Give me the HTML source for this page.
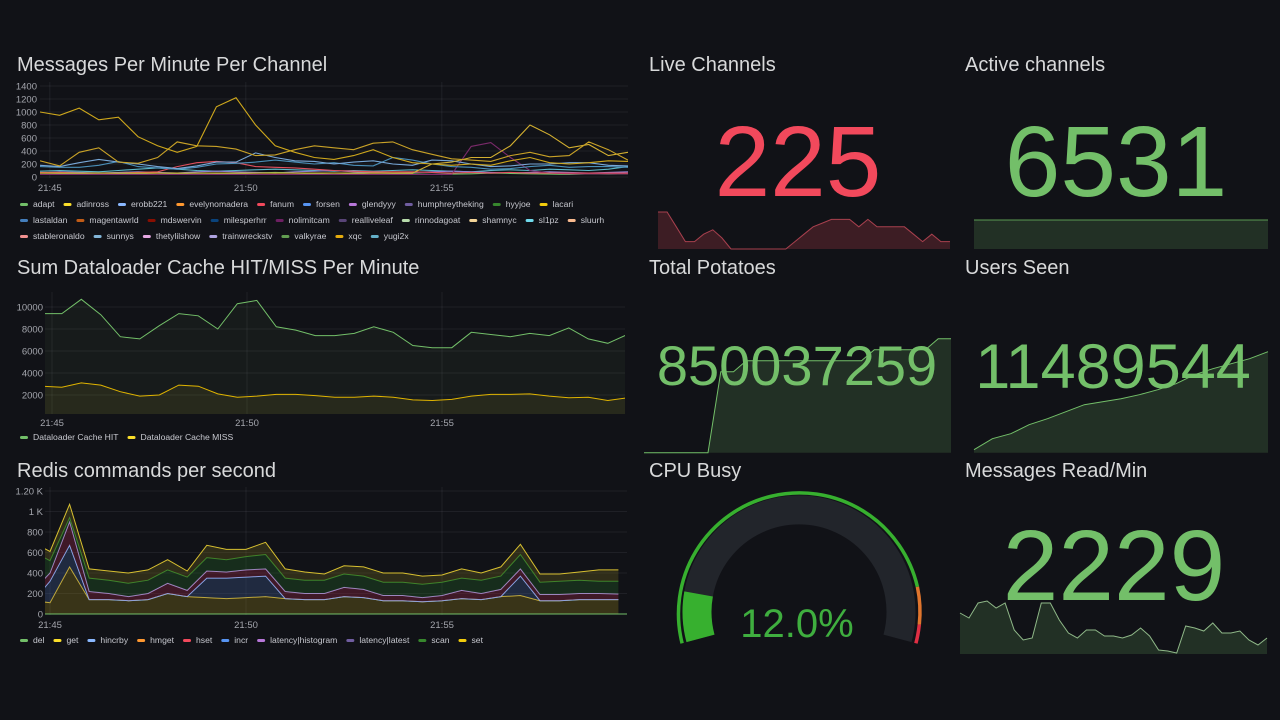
<!DOCTYPE html>
<html><head><meta charset="utf-8">
<style>
html,body{margin:0;padding:0;background:#111217;width:1280px;height:720px;overflow:hidden;}
svg{display:block;font-family:"Liberation Sans",sans-serif;}
.ttl{fill:#d8d9da;font-size:20px;}
.tick{fill:#a4a6ad;font-size:9.5px;}
.leg{fill:#c7c8cf;font-size:8.6px;}
.grid{stroke:rgba(204,204,220,0.08);stroke-width:1;}
</style></head>
<body>
<svg id="dash" width="1280" height="720" viewBox="0 0 1280 720">
<defs>
<clipPath id="c1"><rect x="40" y="80" width="588" height="98"/></clipPath>
<clipPath id="c2"><rect x="45" y="290" width="580" height="124"/></clipPath>
<clipPath id="c3"><rect x="45" y="485" width="582" height="130"/></clipPath>
</defs>
<text class="ttl" x="17" y="71">Messages Per Minute Per Channel</text>
<text class="ttl" x="17" y="274">Sum Dataloader Cache HIT/MISS Per Minute</text>
<text class="ttl" x="17" y="477">Redis commands per second</text>
<text class="ttl" x="649" y="71">Live Channels</text>
<text class="ttl" x="965" y="71">Active channels</text>
<text class="ttl" x="649" y="274">Total Potatoes</text>
<text class="ttl" x="965" y="274">Users Seen</text>
<text class="ttl" x="649" y="477">CPU Busy</text>
<text class="ttl" x="965" y="477">Messages Read/Min</text>
<g id="g1"></g>
<g id="g2"></g>
<g id="g3"></g>
<g id="spark"></g>
<g id="gauge"></g>
<text x="798" y="196" text-anchor="middle" font-size="100" fill="#f2495c">225</text>
<text x="1116" y="196" text-anchor="middle" font-size="100" fill="#73bf69">6531</text>
<text x="797" y="385" text-anchor="middle" font-size="56" fill="#73bf69">850037259</text>
<text x="1113" y="388" text-anchor="middle" font-size="63" fill="#73bf69">11489544</text>
<text x="1114" y="600" text-anchor="middle" font-size="100" fill="#73bf69">2229</text>
<text x="797" y="637" text-anchor="middle" font-size="40" fill="#3fae3f">12.0%</text>
</svg>
<script>
// ---------- Chart 1 data ----------
const times1 = [44.75,45.25,45.75,46.25,46.75,47.25,47.75,48.25,48.75,49.25,49.75,50.25,50.75,51.25,51.75,52.25,52.75,53.25,53.75,54.25,54.75,55.25,55.75,56.25,56.75,57.25,57.75,58.25,58.75,59.25,59.75];
const ticks1 = [0,200,400,600,800,1000,1200,1400];
const timeTicks = [45,50,55];
const timeLabels = ["21:45","21:50","21:55"];
const s_xqc = [1000,950,1060,880,920,620,480,380,470,1080,1220,800,480,380,300,270,330,420,300,220,200,180,200,180,250,300,220,200,220,250,240];
const s_adinross = [250,170,380,450,230,210,300,540,480,470,430,330,340,420,480,450,420,520,540,420,350,280,260,240,330,380,310,330,540,420,260];
const s_lacari = [60,60,60,60,60,60,60,60,60,60,60,60,60,60,60,60,60,60,60,60,200,230,300,300,480,800,650,450,500,330,380];
const s_erobb = [180,160,220,270,230,200,160,130,170,230,230,370,300,250,240,200,230,250,200,180,260,250,200,160,170,200,200,220,220,180,170];
const s_yugi = [160,150,150,180,240,160,140,120,150,200,210,230,260,230,200,220,180,170,300,260,200,160,150,120,130,160,180,150,160,160,150];
const s_fanum = [70,70,60,60,60,70,80,160,220,240,220,160,150,140,120,100,90,80,80,80,70,60,70,60,70,60,60,60,60,60,60];
const s_nolimit = [40,40,40,40,40,40,40,40,40,40,40,40,40,40,40,40,40,40,40,40,40,40,470,530,300,100,60,50,50,50,50];
const s_adapt = [40,45,50,40,45,50,40,50,60,55,50,60,70,60,50,40,50,60,55,50,40,45,50,60,55,50,45,40,50,45,50];
const s_glendy = [60,80,70,60,70,80,70,60,80,90,80,70,60,80,90,100,80,70,60,70,80,90,80,70,60,70,80,70,60,70,80];
const s_sunnys = [90,100,90,80,100,120,140,120,100,90,100,110,120,110,100,90,100,90,100,110,100,90,80,100,110,100,120,110,100,120,160];
const legend1 = [["adapt","adinross","erobb221","evelynomadera","fanum","forsen","glendyyy","humphreytheking","hyyjoe","lacari"],["lastaldan","magentawrld","mdswervin","milesperhrr","nolimitcam","realliveleaf","rinnodagoat","shamnyc","sl1pz","sluurh"],["stableronaldo","sunnys","thetylilshow","trainwreckstv","valkyrae","xqc","yugi2x"]];
const legendColors1 = [["#73bf69","#fade2a","#8ab8ff","#ff9830","#f2495c","#5794f2","#b877d9","#705da0","#37872d","#f2cc0c"],["#447ebc","#c15c17","#890f02","#0a437c","#6d1f62","#584477","#b7dbab","#f4d598","#70dbed","#f9ba8f"],["#f29191","#82b5d8","#e5a8e2","#aea2e0","#629e51","#e5ac0e","#64b0c8"]];
// ---------- Chart 2 data ----------
const times2 = [44.75,45.25,45.75,46.25,46.75,47.25,47.75,48.25,48.75,49.25,49.75,50.25,50.75,51.25,51.75,52.25,52.75,53.25,53.75,54.25,54.75,55.25,55.75,56.25,56.75,57.25,57.75,58.25,58.75,59.25,59.75];
const ticks2 = [2000,4000,6000,8000,10000];
const cacheHit = [9400,9400,10700,9300,7300,7100,8300,9400,9200,8000,10300,10600,8200,7900,7400,7400,7600,8200,7700,6500,6300,6300,7700,7500,7300,7600,7400,8100,7100,6700,7500];
const cacheMiss = [2800,2700,3100,2900,2300,1900,2000,2900,2800,2100,1800,1900,2050,2050,1950,1800,1800,1900,1800,1550,1500,1600,1900,2050,2050,2100,1900,1750,1800,1500,1750];
// ---------- Chart 3 data ----------
const times3 = [44.8,45.0,45.5,46.0,46.5,47.0,47.5,48.0,48.5,49.0,49.5,50.0,50.5,51.0,51.5,52.0,52.5,53.0,53.5,54.0,54.5,55.0,55.5,56.0,56.5,57.0,57.5,58.0,58.5,59.0,59.5];
const ticks3 = [0,200,400,600,800,1000,1200];
const tickLabels3 = ["0","200","400","600","800","1 K","1.20 K"];
const r_get = [120,110,460,140,140,130,140,200,170,160,150,160,170,150,140,140,170,160,130,130,120,130,150,140,170,180,130,130,140,140,140];
const r_hincrby = [110,210,210,0,0,0,0,0,0,190,200,200,200,0,0,0,0,0,0,0,0,0,0,0,0,190,0,0,0,0,0];
const r_latency = [90,80,230,80,60,40,60,100,60,70,60,70,70,70,60,60,90,80,50,50,40,50,80,60,70,70,60,60,60,60,55];
const r_scan = [240,120,40,130,130,130,130,130,130,130,120,130,140,130,130,130,130,130,130,130,130,130,120,130,130,140,120,130,130,120,125];
const r_set = [90,90,130,90,90,100,100,100,60,120,100,70,120,90,80,60,80,90,90,90,80,70,90,70,90,100,80,70,80,110,110];
const legend3 = ["del","get","hincrby","hmget","hset","incr","latency|histogram","latency|latest","scan","set"];
const legendColors3 = ["#73bf69","#fade2a","#8ab8ff","#ff9830","#f2495c","#5794f2","#b877d9","#705da0","#37872d","#f2cc0c"];
// ---------- Stat sparklines ----------
const liveChannels = [5,5,3,1,1,2,2.6,1.5,0,0,0,0,0,0,0,1,2,3,3.5,4,4,4,3,4,3,3,3,3,2,1,2,1,1];
const activeChannels = [1,1,1,1,1,1,1,1,1,1];
const totalPotatoes = [0,0,0,0,0,0,81,81,92,92,92,92,92,92,92,92,92,92,103,103,103,103,103,114,114];
const usersSeen = [3,14,19,28,34,41,48,51,54,58,63,69,78,84,89,94,101];
const messagesRead = [41,36,51,53,46,51,24,14,16,51,51,34,21,16,24,24,18,18,16,19,26,18,4,3,1,28,26,23,31,21,21,23,14,9,16];
const cpuBusy = [12.0];

const NS = "http://www.w3.org/2000/svg";
function mk(parent, tag, attrs){const e=document.createElementNS(NS,tag);for(const k in attrs)e.setAttribute(k,attrs[k]);parent.appendChild(e);return e;}
function pathD(xs, ys){return xs.map((x,i)=>(i?"L":"M")+x.toFixed(1)+" "+ys[i].toFixed(1)).join(" ");}

function axes(g, xS, yS, yt, ylabels, x0, x1, labX, yBot, xtY, yTop){
  yt.forEach((v,i)=>{
    const l=mk(g,"line",{x1:x0,x2:x1,y1:yS(v),y2:yS(v),class:"grid"});
    
    
    const t=mk(g,"text",{x:labX,y:yS(v)+3.5,"text-anchor":"end",class:"tick"});
    t.textContent=ylabels[i];
    
    
  });
  timeTicks.forEach((tt,i)=>{
    const l=mk(g,"line",{x1:xS(tt),x2:xS(tt),y1:yTop,y2:yBot,class:"grid"});
    
    
    const t=mk(g,"text",{x:xS(tt),y:xtY,"text-anchor":"middle",class:"tick"});
    t.textContent=timeLabels[i];
    
    
  });
}

function legendRow(g, names, colors, x, y){
  let cx=x;
  names.forEach((n,i)=>{
    const m=mk(g,"rect",{x:cx,y:y-3,width:8,height:3,rx:1.5,fill:colors[i]});
    
    
    const t=mk(g,"text",{x:cx+13,y:y+1,class:"leg"});
    t.textContent=n;
    
    
    cx+=13+t.getComputedTextLength()+9;
  });
}

// Chart 1
(function(){
  const g=document.getElementById('g1');
  const xS=t=>40+(t-44.75)*39.2, yS=v=>177-v*91/1400;
  axes(g,xS,yS,ticks1,ticks1.map(String),40,628,37,178,191,82);
  const cg=mk(g,"g",{"clip-path":"url(#c1)"});
  const series=[[s_sunnys,"#5cb8c8"],[s_glendy,"#8f7fd0"],[s_adapt,"#73bf69"],[s_nolimit,"#7a2a6a"],[s_fanum,"#e0505e"],[s_yugi,"#4a8fb8"],[s_erobb,"#78a8d8"],[s_lacari,"#d4b030"],[s_adinross,"#c9a227"],[s_xqc,"#cfa81c"]];
  series.forEach(([vals,col])=>{
    const p=mk(cg,"path",{d:pathD(times1.map(xS),vals.map(yS)),fill:"none",stroke:col,"stroke-width":1.1});
    
    
  });
  legend1.forEach((row,i)=>legendRow(g,row,legendColors1[i],20,206+i*16));
})();

// Chart 2
(function(){
  const g=document.getElementById('g2');
  const xS=t=>52+(t-45)*39, yS=v=>417-v*0.011;
  axes(g,xS,yS,ticks2,ticks2.map(String),45,625,43,414,426,292);
  const cg=mk(g,"g",{"clip-path":"url(#c2)"});
  [[cacheHit,"#73bf69","rgba(115,191,105,0.06)","cache-hit-line"],[cacheMiss,"#e0b400","rgba(250,222,42,0.07)","cache-miss-line"]].forEach(([vals,col,fill,nm])=>{
    const xs=times2.map(xS), ys=vals.map(yS);
    const a=mk(cg,"path",{d:pathD(xs,ys)+` L${xs[xs.length-1]} 414 L${xs[0]} 414 Z`,fill:fill});
    
    
    const p=mk(cg,"path",{d:pathD(xs,ys),fill:"none",stroke:col,"stroke-width":1});
    
    
  });
  legendRow(g,["Dataloader Cache HIT","Dataloader Cache MISS"],["#73bf69","#fade2a"],20,439);
})();

// Chart 3
(function(){
  const g=document.getElementById('g3');
  const xS=t=>50+(t-45)*39.2, yS=v=>614-v*123/1200;
  axes(g,xS,yS,ticks3,tickLabels3,45,627,43,615,628,487);
  const cg=mk(g,"g",{"clip-path":"url(#c3)"});
  const layers=[[r_get,"#d8b830","rgba(160,140,30,0.28)"],[r_hincrby,"#8ab8ff","rgba(60,90,140,0.35)"],[r_latency,"#b08ad8","rgba(150,40,70,0.35)"],[r_scan,"#37872d","rgba(40,110,40,0.3)"],[r_set,"#d8c030","rgba(120,110,30,0.3)"]];
  let base=times3.map(()=>0);
  const xs=times3.map(xS);
  layers.forEach(([vals,col,fill])=>{
    const top=base.map((b,i)=>b+vals[i]);
    const ty=top.map(yS), by=base.map(yS);
    let d=pathD(xs,ty);
    for(let i=xs.length-1;i>=0;i--)d+=` L${xs[i].toFixed(1)} ${by[i].toFixed(1)}`;
    const a=mk(cg,"path",{d:d+" Z",fill:fill});
    
    
    const p=mk(cg,"path",{d:pathD(xs,ty),fill:"none",stroke:col,"stroke-width":1});
    
    
    base=top;
  });
  const z=mk(cg,"line",{x1:45,x2:627,y1:yS(0),y2:yS(0),stroke:"#73bf69","stroke-width":1});
  
  
  legendRow(g,legend3,legendColors3,20,642);
})();

// Sparklines
function spark(vals,x0,x1,yb,scale,stroke,fill,name){
  const g=document.getElementById('spark');
  const xs=vals.map((v,i)=>x0+(x1-x0)*i/(vals.length-1)), ys=vals.map(v=>yb-v*scale);
  const a=mk(g,"path",{d:pathD(xs,ys)+` L${x1} ${yb} L${x0} ${yb} Z`,fill:fill});
  
  
  const p=mk(g,"path",{d:pathD(xs,ys),fill:"none",stroke:stroke,"stroke-width":1});
  
  
}
spark(liveChannels,658,950,249,7.4,"#a8404e","rgba(242,73,92,0.2)","live-channels-spark");
spark(activeChannels,974,1268,249,29,"#5a9a52","rgba(115,191,105,0.18)","active-channels-spark");
spark(totalPotatoes,644,951,452.7,1,"#73bf69","rgba(115,191,105,0.18)","potatoes-spark");
spark(usersSeen,974,1268,452.7,1,"#73bf69","rgba(115,191,105,0.18)","users-seen-spark");
spark(messagesRead,960,1267,654,1,"#8fb888","rgba(115,191,105,0.18)","messages-read-spark");

// Gauge
(function(){
  const g=document.getElementById('gauge');
  const cx=799, cy=612, a0=-105, a1=105;
  const pt=(r,a)=>{const rad=a*Math.PI/180;return [cx+r*Math.sin(rad), cy-r*Math.cos(rad)];};
  const arc=(r,s,e)=>{const p1=pt(r,s),p2=pt(r,e);return `M${p1[0].toFixed(1)} ${p1[1].toFixed(1)} A${r} ${r} 0 ${e-s>180?1:0} 1 ${p2[0].toFixed(1)} ${p2[1].toFixed(1)}`;};
  const tr=mk(g,"path",{d:arc(102,a0,a1),fill:"none",stroke:"#22252b","stroke-width":29});
  
  
  const va=a0+(a1-a0)*cpuBusy[0]/100;
  const vf=mk(g,"path",{d:arc(102,a0,va),fill:"none",stroke:"#37b02f","stroke-width":29});
  
  
  [[a0,78,"#37b02f"],[78,96,"#e0752d"],[96,a1,"#e02f44"]].forEach(([s,e,c])=>{
    const r=mk(g,"path",{d:arc(121,s,e),fill:"none",stroke:c,"stroke-width":3.5});
    
    
  });
})();
</script>
</body></html>
